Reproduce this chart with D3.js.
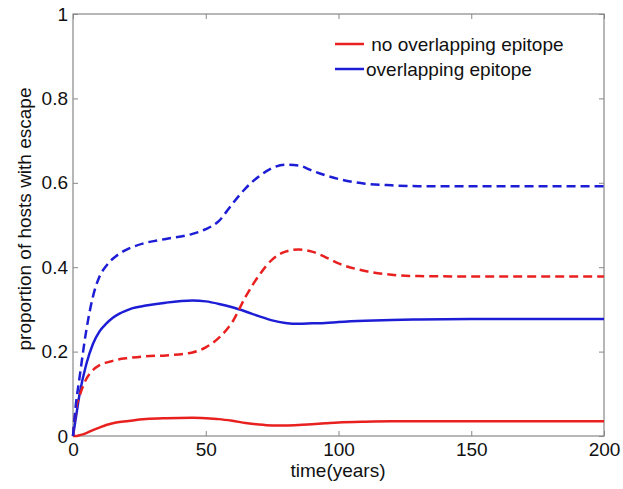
<!DOCTYPE html>
<html>
<head>
<meta charset="utf-8">
<script src="https://cdn.jsdelivr.net/npm/d3@7"></script>
<style>
body { margin: 0; background: #fff; }
text { font-family: "Liberation Sans", Arial, sans-serif; }
</style>
</head>
<body>
<div id="chart"></div>
<script>
var w = 623;
var h = 489;

// time points (years)
var times = [0, 1, 2.5, 5, 7.5, 10, 12.5, 15, 17.5, 20, 22.5, 27.5, 35, 45, 50, 55, 60, 65, 70, 75, 80, 85, 90, 95, 100, 110, 120, 130, 150, 175, 200];

// overlapping epitope, dashed
var blueDashed = [0, 0.07, 0.14, 0.25, 0.33, 0.378, 0.403, 0.42, 0.432, 0.441, 0.448, 0.458, 0.467, 0.479, 0.49, 0.51, 0.55, 0.587, 0.615, 0.635, 0.643, 0.641, 0.629, 0.618, 0.609, 0.598, 0.594, 0.592, 0.592, 0.592, 0.592];
// no overlapping epitope, dashed
var redDashed = [0, 0.06, 0.095, 0.135, 0.156, 0.168, 0.174, 0.178, 0.182, 0.184, 0.186, 0.189, 0.191, 0.198, 0.21, 0.233, 0.27, 0.33, 0.38, 0.418, 0.437, 0.442, 0.437, 0.424, 0.409, 0.391, 0.382, 0.379, 0.378, 0.378, 0.378];
// overlapping epitope, solid
var blueSolid = [0, 0.04, 0.1, 0.17, 0.218, 0.248, 0.266, 0.28, 0.29, 0.297, 0.303, 0.309, 0.316, 0.321, 0.319, 0.313, 0.305, 0.295, 0.284, 0.274, 0.268, 0.266, 0.267, 0.268, 0.27, 0.273, 0.275, 0.276, 0.277, 0.277, 0.277];
// no overlapping epitope, solid
var redSolid = [0, 0, 0.002, 0.007, 0.014, 0.02, 0.026, 0.03, 0.033, 0.035, 0.037, 0.04, 0.042, 0.043, 0.042, 0.04, 0.036, 0.031, 0.027, 0.025, 0.025, 0.026, 0.028, 0.03, 0.032, 0.034, 0.035, 0.035, 0.035, 0.035, 0.035];

var xTicks = [0, 50, 100, 150, 200];
var yTicks = [0, 0.2, 0.4, 0.6, 0.8, 1];
var legendLabels = [" no overlapping epitope", "overlapping epitope"];

var red = "#e8201f";
var blue = "#1d1dd6";

var margin = {left: 73, right: 19, top: 14, bottom: 53};
var iw = w - margin.left - margin.right;
var ih = h - margin.top - margin.bottom;

var svg = d3.select("#chart")
    .append("svg")
    .attr("width", w)
    .attr("height", h);

var g = svg.append("g")
    .attr("transform", "translate(" + margin.left + "," + margin.top + ")");

var xScale = d3.scaleLinear().domain([0, 200]).range([0, iw]);
var yScale = d3.scaleLinear().domain([0, 1]).range([ih, 0]);

// axes with inward ticks
var xAxis = d3.axisBottom(xScale).tickValues(xTicks).tickSizeInner(-5).tickSizeOuter(0).tickPadding(7);
var yAxis = d3.axisLeft(yScale).tickValues(yTicks).tickSizeInner(-5).tickSizeOuter(0).tickPadding(5)
    .tickFormat(function (d) { return d; });
var xTop = d3.axisTop(xScale).tickValues(xTicks).tickSizeInner(-5).tickSizeOuter(0).tickFormat("");
var yRight = d3.axisRight(yScale).tickValues(yTicks).tickSizeInner(-5).tickSizeOuter(0).tickFormat("");

g.append("g").attr("transform", "translate(0," + ih + ")").call(xAxis);
g.append("g").call(yAxis);
g.append("g").call(xTop);
g.append("g").attr("transform", "translate(" + iw + ",0)").call(yRight);

g.selectAll(".domain").remove();
g.selectAll(".tick line").attr("stroke", "#888");
g.selectAll(".tick text").attr("fill", "#111").style("font-size", "19px")
    .style("font-family", "'Liberation Sans', Arial, sans-serif");

g.append("rect")
    .attr("width", iw)
    .attr("height", ih)
    .attr("fill", "none")
    .attr("stroke", "#888")
    .attr("stroke-width", 1.2);

var line = d3.line()
    .x(function (d) { return xScale(d[0]); })
    .y(function (d) { return yScale(d[1]); })
    .curve(d3.curveMonotoneX);

var series = [
    {values: redSolid, color: red, dash: null},
    {values: blueSolid, color: blue, dash: null},
    {values: redDashed, color: red, dash: "9,5"},
    {values: blueDashed, color: blue, dash: "9,5"}
];

g.selectAll("path.series")
    .data(series)
    .enter()
    .append("path")
    .attr("class", "series")
    .attr("d", function (d) {
        return line(times.map(function (t, i) { return [t, d.values[i]]; }));
    })
    .attr("fill", "none")
    .attr("stroke", function (d) { return d.color; })
    .attr("stroke-width", 2.5)
    .attr("stroke-dasharray", function (d) { return d.dash; });

// legend
var legend = svg.append("g");
var legendColors = [red, blue];
legendLabels.forEach(function (lab, i) {
    var y = 44 + i * 25;
    legend.append("line")
        .attr("x1", 335).attr("x2", 364)
        .attr("y1", y).attr("y2", y)
        .attr("stroke", legendColors[i])
        .attr("stroke-width", 2.5);
    legend.append("text")
        .attr("x", 366)
        .attr("y", y + 7)
        .attr("fill", "#111")
        .style("font-size", "19px")
        .style("white-space", "pre")
        .attr("xml:space", "preserve")
        .text(lab);
});

// axis labels
svg.append("text")
    .attr("x", 338)
    .attr("y", 477)
    .attr("text-anchor", "middle")
    .attr("fill", "#111")
    .style("font-size", "19px")
    .text("time(years)");

svg.append("text")
    .attr("transform", "translate(31,219) rotate(-90)")
    .attr("text-anchor", "middle")
    .attr("fill", "#111")
    .style("font-size", "19px")
    .text("proportion of hosts with escape");
</script>
</body>
</html>
